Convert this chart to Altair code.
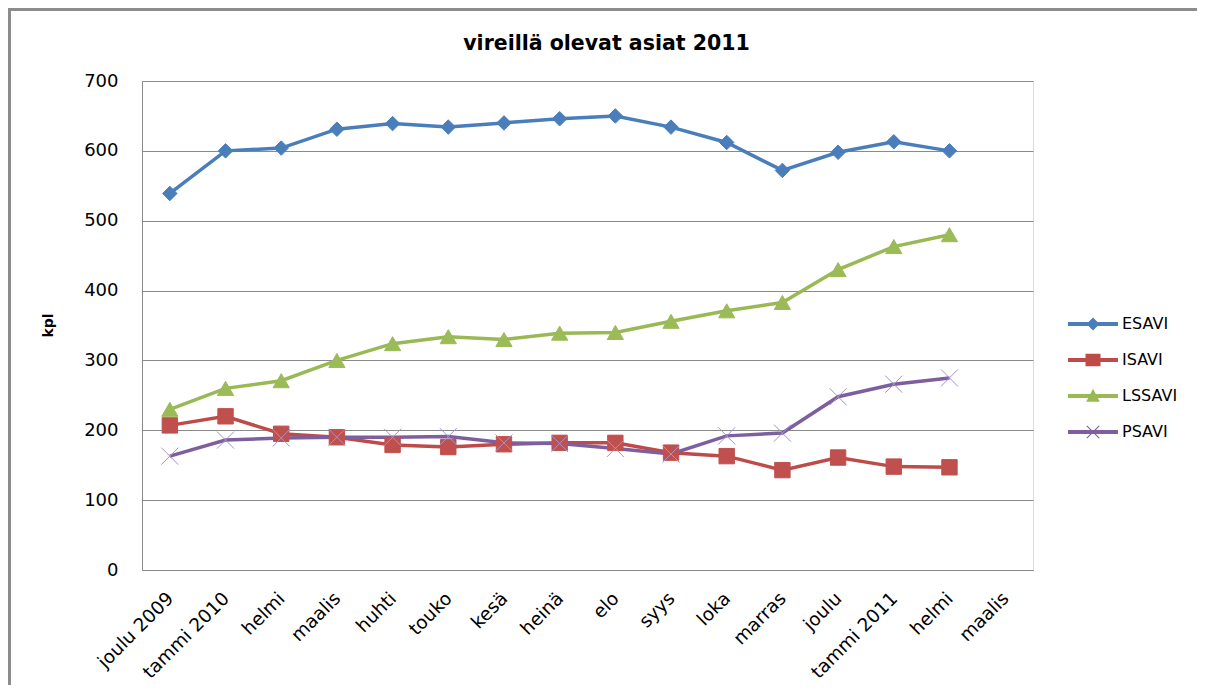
import altair as alt
import pandas as pd

FONT = "DejaVu Sans"

categories = ["joulu 2009", "tammi 2010", "helmi", "maalis", "huhti", "touko",
              "kesä", "heinä", "elo", "syys", "loka", "marras", "joulu",
              "tammi 2011", "helmi", "maalis"]
series_names = ["ESAVI", "ISAVI", "LSSAVI", "PSAVI"]
esavi = [539, 600, 604, 631, 639, 634, 640, 646, 650, 634, 612, 572, 598, 613, 600]
isavi = [207, 220, 195, 190, 179, 176, 180, 182, 182, 168, 163, 143, 161, 148, 147]
lssavi = [230, 260, 271, 300, 324, 334, 330, 339, 340, 356, 371, 383, 430, 463, 480]
psavi = [163, 186, 189, 190, 190, 191, 182, 181, 174, 166, 192, 196, 248, 266, 275]

line_colors = ["#4A7EBB", "#BE4B48", "#98B954", "#7D5FA0"]
marker_fill = ["#4A7EBB", "#C0504D", "#9BBB59", "#7D5FA0"]
marker_stroke = ["#4A7EBB", "#C0504D", "#9BBB59", "#A592C9"]
marker_shapes = ["diamond", "square", "triangle-up", "M-1,-1L1,1M-1,1L1,-1"]
marker_sizes = [210, 290, 260, 200]

bar = "M-2.5,-0.2H2.5V0.2H-2.5Z"
legend_shapes = [
    bar + "M0,-0.65L0.65,0L0,0.65L-0.65,0Z",
    bar + "M-0.75,-0.62H0.75V0.62H-0.75Z",
    bar + "M0,-0.72L0.68,0.58L-0.68,0.58Z",
    bar + "M-0.58,-0.66L0.66,0.58L0.58,0.66L-0.66,-0.58Z"
        + "M0.66,-0.58L-0.58,0.66L-0.66,0.58L0.58,-0.66Z",
]

rows = []
for name, vals in zip(series_names, [esavi, isavi, lssavi, psavi]):
    for i, v in enumerate(vals):
        rows.append({"i": i, "series": name, "value": v})
df = pd.DataFrame(rows)

label_expr = "[" + ",".join("'" + c + "'" for c in categories) + "][datum.value]"

x_enc = alt.X(
    "i:O",
    scale=alt.Scale(domain=list(range(len(categories)))),
    axis=alt.Axis(
        title=None, labelExpr=label_expr, labelAngle=-45, labelAlign="right",
        labelBaseline="middle", labelPadding=25, ticks=False, grid=False,
        domainColor="#8a8a8a", labelFont=FONT, labelFontSize=18.5, labelColor="black",
    ),
)
y_enc = alt.Y(
    "value:Q",
    scale=alt.Scale(domain=[0, 700]),
    axis=alt.Axis(
        title="kpl", values=list(range(0, 701, 100)), ticks=False,
        gridColor="#8a8a8a", gridWidth=1, domainColor="#8a8a8a",
        labelPadding=24, labelFont=FONT, labelFontSize=18, labelColor="black",
        titleFont=FONT, titleFontSize=14, titleFontWeight="bold", titleColor="black",
        titleX=-94, titleY=244, titleAngle=-90, titleBaseline="middle", titleAlign="center",
    ),
)

lines = alt.Chart(df).mark_line(strokeWidth=3.5).encode(
    x=x_enc, y=y_enc,
    color=alt.Color("series:N", scale=alt.Scale(domain=series_names, range=line_colors), legend=None),
)

points = alt.Chart(df).mark_point(filled=True, strokeWidth=1, opacity=1).encode(
    x=x_enc, y=y_enc,
    color=alt.Color("series:N", scale=alt.Scale(domain=series_names, range=marker_fill), legend=None),
    stroke=alt.Stroke("series:N", scale=alt.Scale(domain=series_names, range=marker_stroke), legend=None),
    shape=alt.Shape("series:N", scale=alt.Scale(domain=series_names, range=marker_shapes), legend=None),
    size=alt.Size("series:O", scale=alt.Scale(domain=series_names, range=marker_sizes), legend=None),
)

leg = alt.Legend(
    orient="none", legendX=941, legendY=233, title=None, symbolSize=400,
    labelOffset=19, rowPadding=18, padding=0, labelFont=FONT, labelFontSize=16,
    labelColor="black", symbolStrokeWidth=0,
)
legend_layer = alt.Chart(df).transform_filter("false").mark_point(filled=True, opacity=1).encode(
    x=x_enc, y=y_enc,
    color=alt.Color("series:N", scale=alt.Scale(domain=series_names, range=line_colors), legend=leg),
    shape=alt.Shape("series:N", scale=alt.Scale(domain=series_names, range=legend_shapes), legend=leg),
)

frame_top = alt.Chart(alt.Data(values=[{"f": 1}])).mark_rule(color="#8c8c8c", strokeWidth=3).encode(
    x=alt.value(-134), x2=alt.value(1060), y=alt.value(-71.5)
)
frame_left = alt.Chart(alt.Data(values=[{"f": 1}])).mark_rule(color="#8c8c8c", strokeWidth=3).encode(
    x=alt.value(-132.5), y=alt.value(-73), y2=alt.value(610)
)

chart = alt.layer(frame_top, frame_left, lines, points, legend_layer).resolve_scale(
    color="independent", shape="independent", stroke="independent", size="independent"
).properties(
    width=891, height=489,
    padding={"left": 134, "top": 73, "right": 164, "bottom": 115},
    autosize=alt.AutoSizeParams(type="none"),
    title=alt.TitleParams(
        "vireillä olevat asiat 2011", font=FONT, fontSize=20.5, fontWeight="bold",
        anchor="middle", frame="group", dx=19, offset=-64, color="black",
        baseline="alphabetic",
    ),
).configure_view(stroke=None).configure(background="white")

chart.save("out.html", embed_options={"renderer": "svg", "actions": False})
